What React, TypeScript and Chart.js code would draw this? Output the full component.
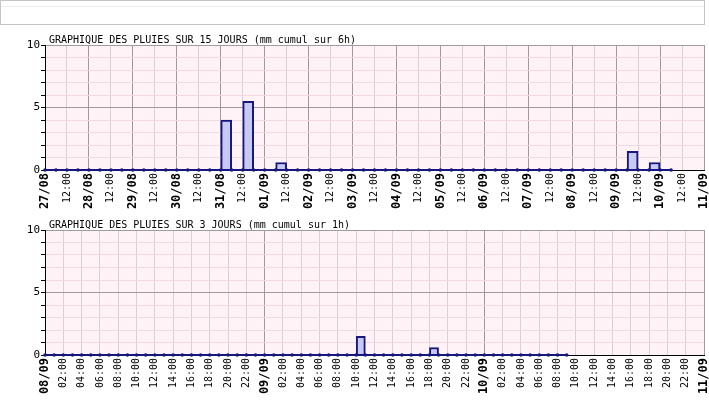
import React, { useEffect, useRef } from 'react';
import { Chart, registerables } from 'chart.js';
Chart.register(...registerables);

const FONT = '"DejaVu Sans Mono", monospace';

const topTitle = 'GRAPHIQUE DES PLUIES SUR 15 JOURS (mm cumul sur 6h)';
const bottomTitle = 'GRAPHIQUE DES PLUIES SUR 3 JOURS (mm cumul sur 1h)';

// 15-day chart: tick labels every 12 h
const topTickLabels = [
  '27/08', '12:00', '28/08', '12:00', '29/08', '12:00', '30/08', '12:00',
  '31/08', '12:00', '01/09', '12:00', '02/09', '12:00', '03/09', '12:00',
  '04/09', '12:00', '05/09', '12:00', '06/09', '12:00', '07/09', '12:00',
  '08/09', '12:00', '09/09', '12:00', '10/09', '12:00', '11/09',
];
// rain per 6 h slot (mm), from 27/08 00:00 to 10/09 06:00
const rain6h = [
  0, 0, 0, 0, 0, 0, 0, 0, 0, 0, 0, 0, 0, 0, 0, 0, // 27/08 - 30/08
  4, 0, 5.5, 0, // 31/08
  0, 0.6, 0, 0, // 01/09
  0, 0, 0, 0, 0, 0, 0, 0, 0, 0, 0, 0, 0, 0, // 02/09 - 05/09 (part)
  0, 0, 0, 0, 0, 0, 0, 0, 0, 0, 0, 0, 0, 0, // - 08/09
  0, 1.5, 0, 0.6, // 09/09
  0, // 10/09 00-06
];

// 3-day chart: tick labels every 2 h
const bottomTickLabels = [
  '08/09', '02:00', '04:00', '06:00', '08:00', '10:00', '12:00', '14:00', '16:00', '18:00', '20:00', '22:00',
  '09/09', '02:00', '04:00', '06:00', '08:00', '10:00', '12:00', '14:00', '16:00', '18:00', '20:00', '22:00',
  '10/09', '02:00', '04:00', '06:00', '08:00', '10:00', '12:00', '14:00', '16:00', '18:00', '20:00', '22:00',
  '11/09',
];
// rain per 1 h slot (mm), from 08/09 00:00 to 10/09 09:00
const rain1h = [
  0, 0, 0, 0, 0, 0, 0, 0, 0, 0, 0, 0, 0, 0, 0, 0, 0, 0, 0, 0, 0, 0, 0, 0, // 08/09
  0, 0, 0, 0, 0, 0, 0, 0, 0, 0, 1.5, 0, 0, 0, 0, 0, 0, 0, 0.6, 0, 0, 0, 0, 0, // 09/09
  0, 0, 0, 0, 0, 0, 0, 0, 0, // 10/09 00-09
];

const yTicks = [0, 5, 10];

const NAVY = '#16167c';
const BAR_FILL = '#c8c8f4';
const BG = '#fff3f7';
const GRID_DARK = '#a29a9e';
const GRID_LIGHT = '#e0ccd4';
const GRID_PINK = '#f0d9e1';

function makeConfig(
  values: number[],
  slotHours: number,
  tickLabels: string[],
  tickStep: number,
  title: string,
  padTop: number
) {
  const maxHours = (tickLabels.length - 1) * tickStep;
  const bars = values.map((v, i) => ({ x: i * slotHours + slotHours / 2, y: v }));
  const line = [] as { x: number; y: number }[];
  for (let i = 0; i <= values.length; i++) line.push({ x: i * slotHours, y: 0 });

  const deco = {
    id: 'deco',
    beforeDraw(chart: any) {
      const { ctx, chartArea } = chart;
      ctx.save();
      ctx.fillStyle = BG;
      ctx.fillRect(chartArea.left, chartArea.top, chartArea.right - chartArea.left, chartArea.bottom - chartArea.top);
      ctx.restore();
    },
    afterDraw(chart: any) {
      const { ctx, chartArea } = chart;
      ctx.save();
      ctx.fillStyle = '#000';
      ctx.font = '10px ' + FONT;
      ctx.textAlign = 'left';
      ctx.textBaseline = 'alphabetic';
      ctx.fillText(title, chartArea.left + 4, chartArea.top - 2);
      ctx.restore();
    },
  };

  return {
    type: 'bar',
    data: {
      datasets: [
        {
          type: 'line',
          data: line,
          borderColor: NAVY,
          borderWidth: 2,
          pointRadius: 1.8,
          pointBackgroundColor: NAVY,
          pointBorderWidth: 0,
          clip: false,
          order: 0,
        },
        {
          type: 'bar',
          data: bars,
          backgroundColor: BAR_FILL,
          borderColor: NAVY,
          borderWidth: 2,
          barPercentage: 1,
          categoryPercentage: 1,
          order: 1,
        },
      ],
    },
    options: {
      responsive: false,
      animation: false,
      events: [],
      layout: { padding: { top: padTop, right: 5, bottom: 0, left: 0 } },
      plugins: { legend: { display: false }, tooltip: { enabled: false }, title: { display: false } },
      scales: {
        x: {
          type: 'linear',
          min: 0,
          max: maxHours,
          offset: false,
          afterBuildTicks: (s: any) => {
            s.ticks = tickLabels.map((_, i) => ({ value: i * tickStep }));
          },
          afterFit: (s: any) => {
            s.height = 45;
            s.paddingLeft = 0;
            s.paddingRight = 0;
          },
          ticks: {
            autoSkip: false,
            minRotation: 90,
            maxRotation: 90,
            padding: 3,
            color: '#000',
            callback: (_v: any, i: number) => tickLabels[i],
            font: (ctx: any) =>
              ctx.tick && ctx.tick.value % 24 === 0
                ? { family: FONT, size: 12, weight: 'bold' }
                : { family: FONT, size: 10, weight: 'normal' },
          },
          grid: {
            offset: false,
            drawTicks: false,
            color: (ctx: any) => {
              const v = ctx.tick ? ctx.tick.value : -1;
              if (v === 0) return 'rgba(0,0,0,0)';
              return v % 24 === 0 ? GRID_DARK : GRID_LIGHT;
            },
          },
          border: { color: '#000', width: 1 },
        },
        y: {
          type: 'linear',
          min: 0,
          max: 10,
          afterFit: (s: any) => {
            s.width = 45;
          },
          ticks: {
            stepSize: 1,
            autoSkip: false,
            padding: 1,
            color: '#000',
            font: { family: FONT, size: 11 },
            callback: (v: any) => (yTicks.includes(v) ? String(v) : ''),
          },
          grid: {
            tickLength: 4,
            tickColor: '#000',
            color: (ctx: any) => {
              const v = ctx.tick ? ctx.tick.value : -1;
              if (v === 0) return 'rgba(0,0,0,0)';
              return v === 5 || v === 10 ? GRID_DARK : GRID_PINK;
            },
          },
          border: { color: '#000', width: 1 },
        },
      },
    },
    plugins: [deco],
  } as any;
}

export default function App() {
  const topRef = useRef<HTMLCanvasElement>(null);
  const botRef = useRef<HTMLCanvasElement>(null);

  useEffect(() => {
    document.body.style.margin = '0';
    const c1 = new Chart(topRef.current as HTMLCanvasElement, makeConfig(rain6h, 6, topTickLabels, 12, topTitle, 45));
    const c2 = new Chart(botRef.current as HTMLCanvasElement, makeConfig(rain1h, 1, bottomTickLabels, 2, bottomTitle, 15));
    return () => {
      c1.destroy();
      c2.destroy();
    };
  }, []);

  return (
    <div style={{ position: 'absolute', left: 0, top: 0, width: 709, height: 400, background: '#fff', overflow: 'hidden' }}>
      <div
        style={{
          position: 'absolute',
          left: 0,
          top: 0,
          width: 705,
          height: 25,
          boxSizing: 'border-box',
          border: '1px solid #c4c4c4',
        }}
      />
      <div style={{ position: 'absolute', left: 1, top: 6, width: 703, height: 1, background: '#f0f0f0' }} />
      <canvas ref={topRef} width={709} height={215} style={{ position: 'absolute', left: 0, top: 0, display: 'block' }} />
      <canvas ref={botRef} width={709} height={185} style={{ position: 'absolute', left: 0, top: 215, display: 'block' }} />
    </div>
  );
}
